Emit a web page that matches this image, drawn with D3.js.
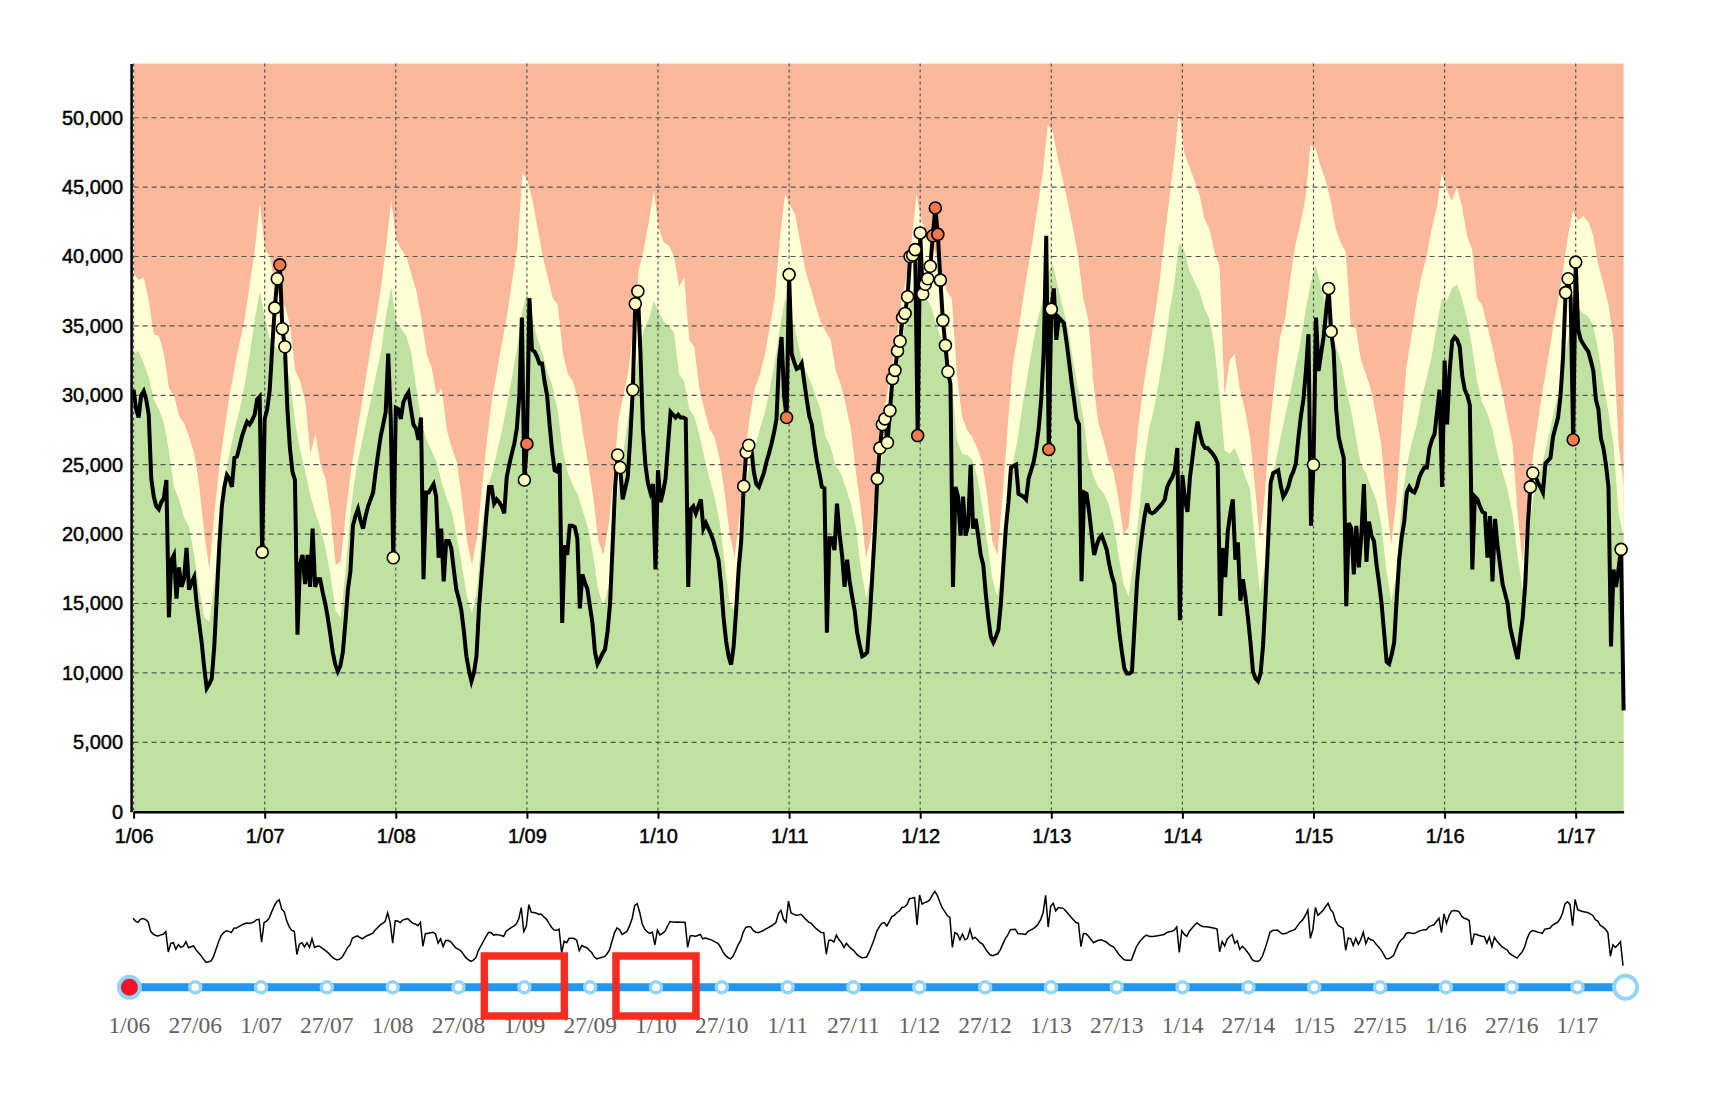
<!DOCTYPE html>
<html>
<head>
<meta charset="utf-8">
<script src="https://cdn.jsdelivr.net/npm/d3@7"></script>
<style>
  body { margin: 0; background: #fff; }
  .axis text { font-family: "Liberation Sans", Arial, Helvetica, sans-serif; font-size: 20px; fill: #000; stroke: #000; stroke-width: 0.45px; }
  .slider text { font-family: "Liberation Serif", "Times New Roman", serif; font-size: 23.5px; fill: #626262; }
</style>
</head>
<body>
<div id="chart"></div>
<script>
/* Weekly visits, one array per year (week 1 .. week 52) */
const visits06 = [30400, 29000, 28400, 30000, 30300, 29700, 28600, 24000, 22700, 22000,
  21800, 22300, 22600, 23900, 14000, 18150, 18500, 15350, 17600, 16200,
  16750, 19000, 16000, 16500, 16900, 15000, 13600, 12200, 10400, 8900,
  9200, 9600, 11900, 15500, 19200, 22000, 23400, 24250, 24000, 23400,
  25500, 25600, 26300, 27050, 27600, 28100, 27900, 28200, 28600, 29700,
  29900, 18700];
const visits07 = [28300, 29000, 30400, 33500, 36300, 38400, 39400, 34800, 33500, 29000,
  26200, 24500, 23900, 12750, 17800, 18500, 16400, 18500, 16200, 20400,
  16200, 16750, 16750, 15800, 15000, 14000, 12800, 11500, 10600, 10100,
  10500, 11500, 13600, 16000, 17300, 20600, 21300, 21800, 21000, 20400,
  21300, 22000, 22500, 23000, 24500, 25800, 27050, 27900, 28800, 33000,
  28300, 18300];
const visits08 = [29100, 29000, 28300, 29500, 29900, 30200, 29000, 27900, 27600, 26800,
  28400, 16750, 23000, 23000, 23300, 23600, 22700, 18300, 20400, 16600,
  19500, 19500, 19000, 17450, 16000, 15350, 14500, 13000, 11200, 10200,
  9400, 10000, 11200, 14650, 17000, 19200, 21500, 23400, 23400, 22200,
  22500, 22300, 22000, 21500, 24100, 25000, 25800, 26500, 27600, 30000,
  35600, 23900];
const visits09 = [26500, 37000, 33300, 33150, 32800, 32300, 32300, 31000, 30000, 27900,
  26000, 24600, 24500, 25100, 13600, 19200, 18500, 20600, 20600, 20500,
  19700, 14650, 17100, 16500, 16050, 14800, 13600, 11500, 10650, 11000,
  11400, 11700, 13000, 15000, 19200, 23400, 25700, 24800, 22500, 23300,
  24100, 26900, 30400, 36600, 37500, 33200, 27600, 25000, 23700, 23000,
  23600, 17450];
const visits10 = [24600, 22300, 23000, 24000, 26500, 28800, 28600, 28400, 28600, 28400,
  28400, 28300, 16200, 21800, 22000, 21500, 22000, 22500, 20400, 20800,
  20400, 20000, 19500, 18800, 18150, 16400, 14000, 12300, 11200, 10600,
  11900, 14500, 17500, 19500, 23450, 25900, 26400, 26200, 24500, 23600,
  23400, 23900, 24400, 25200, 25800, 26500, 27300, 28300, 32500, 34200,
  30000, 28400];
const visits11 = [38700, 33000, 32400, 31900, 32000, 32300, 31000, 29700, 28500, 27900,
  26500, 25300, 24400, 23400, 23300, 12900, 19700, 19700, 18850, 22200,
  20000, 18500, 16200, 18150, 16600, 15500, 14500, 12900, 12000, 11200,
  11300, 11500, 14000, 17000, 20200, 24000, 26200, 27900, 28300, 26600,
  28900, 31200, 31800, 33200, 33900, 35600, 35900, 37100, 40000, 40100,
  40500, 27100];
const visits12 = [41700, 37300, 38000, 38400, 39300, 41500, 43500, 41600, 38300, 35400,
  33600, 31700, 30800, 16200, 23400, 22700, 19900, 22700, 19900, 20600,
  25000, 20400, 21100, 19900, 18500, 17800, 15700, 14000, 12600, 12200,
  12600, 13100, 15000, 17800, 20500, 22300, 24800, 24900, 25000, 22900,
  22800, 22700, 22500, 24000, 24600, 25200, 26200, 27600, 29700, 33200,
  41500, 26100];
const visits13 = [36200, 37700, 34000, 35600, 35400, 35200, 33900, 32500, 31000, 29700,
  28300, 27900, 16600, 23000, 22900, 21600, 20000, 18500, 19200, 19700,
  19900, 19400, 18850, 17800, 17000, 16400, 14650, 12900, 11500, 10300,
  9950, 9950, 10100, 13300, 16500, 18500, 20000, 21300, 22200, 21600,
  21500, 21600, 21800, 22000, 22200, 22500, 23400, 23800, 24100, 24600,
  26200, 13800];
const visits14 = [24250, 22500, 21600, 24100, 25500, 27000, 28100, 27200, 26500, 26200,
  26200, 26000, 25800, 25500, 25100, 14100, 19000, 16900, 20200, 21500,
  22500, 18150, 19400, 15200, 16750, 15500, 14000, 12200, 10100, 9600,
  9400, 9950, 12000, 15500, 19500, 23700, 24400, 24500, 24600, 23500,
  22700, 23000, 23400, 24100, 24500, 25100, 26900, 28500, 29700, 31750,
  34400, 20600];
const visits15 = [25000, 35600, 31750, 33000, 34200, 36000, 37700, 34600, 33150, 29000,
  27000, 26200, 25500, 14800, 20800, 20400, 17100, 20600, 17600, 20000,
  23600, 18000, 20900, 19900, 19500, 17800, 16500, 15000, 12900, 10800,
  10650, 11300, 12200, 15350, 18150, 19800, 20900, 23000, 23400, 23100,
  23000, 23400, 24100, 24500, 24800, 24800, 26200, 26800, 27200, 28800,
  30400, 23400];
const visits16 = [32500, 27900, 31750, 33900, 34200, 34000, 33500, 31400, 30400, 30000,
  29300, 17450, 22700, 22500, 22000, 21600, 21500, 18300, 21300, 16600,
  21100, 19200, 17800, 16400, 15700, 15000, 13300, 12500, 11700, 11000,
  12600, 14000, 16400, 20600, 23400, 24400, 24200, 23700, 23400, 23000,
  25100, 25300, 25500, 27000, 27700, 28400, 30000, 32800, 37400, 38400,
  37000, 26800];
const visits17 = [39600, 34700, 34000, 33700, 33400, 33150, 32500, 31750, 29700, 29000,
  26900, 26200, 25000, 23400, 11900, 17450, 16200, 17500, 18900, 7300];

/* Alert thresholds, one value every second week */
const upperBand = [
  38800, 38300, 38500, 36800, 34400, 34300, 33000, 30500, 30000, 28500,
  28000, 27000, 25800, 23500, 20000, 17500, 21500, 25000, 27500, 30000,
  32000, 33800, 35500, 38000, 40500, 43800, 40500, 40000, 37800, 37000,
  36400, 35000, 31800, 31000, 29500, 25800, 27200, 25000, 24000, 21500,
  17800, 18000, 21500, 24500, 26800, 29000, 31300, 33500, 35500, 37800,
  40800, 44000,
  41200, 40500, 40000, 38700, 37500, 35500, 33000, 32000, 30000, 30500,
  27500, 26200, 25200, 22500, 19500, 17800, 19800, 23400, 26900, 29800,
  31800, 33900, 35900, 38400, 40800, 46000, 45500, 44000, 42000, 40000,
  38500, 37000, 36500, 33000, 31500, 31000, 29700, 27200, 25100, 22700,
  19500, 18500, 20600, 24000, 28300, 30000, 31800, 35000, 39000, 40500,
  42500, 44700,
  42000, 41000, 40800, 40000, 37800, 38500, 34000, 33500, 30500, 29000,
  27600, 27000, 25500, 23000, 20000, 18300, 21500, 25500, 28500, 30500,
  31500, 33000, 35000, 37200, 41500, 44500, 43700, 43000, 41000, 39000,
  37800, 36500, 35300, 34600, 34000, 31800, 30800, 29300, 27600, 24500,
  21800, 18300, 19800, 24000, 27500, 29700, 31800, 33900, 36800, 38500,
  41000, 44500,
  42500, 41800, 41000, 40000, 38800, 37500, 37000, 31500, 28500, 27500,
  27000, 26200, 25200, 22800, 19500, 18500, 22500, 27500, 32000, 34200,
  36700, 39000, 41200, 43600, 46000, 49500, 49000, 47000, 45500, 43800,
  42000, 40000, 37000, 35500, 31000, 28000, 26800, 25300, 24500, 22500,
  20000, 20500, 24500, 28000, 30800, 33000, 35300, 37800, 41000, 44000,
  47000, 50500,
  47500, 46500, 45500, 44500, 42700, 42000, 40300, 39300, 30000, 32500,
  33000, 30500, 29000, 27000, 23500, 19600, 23000, 28000, 31200, 34200,
  35500, 38400, 40800, 42300, 44200, 48000, 47800, 46500, 45500, 44000,
  42000, 41000, 40300, 35000, 34800, 32500, 31500, 30400, 28500, 26500,
  22500, 19200, 22500, 27500, 32000, 34300, 36800, 38600, 40000, 42000,
  43500, 46000,
  44800, 44000, 45000, 43600, 41500, 40500, 37000, 36500, 35000, 33500,
  31800, 30200, 28300, 26500, 21500, 18000, 22000, 25500, 28000, 30500,
  32500, 34800, 36800, 39000, 41500, 43300, 42600, 42900, 42500, 41500,
  39400, 38000, 36500, 34000, 26500, 23500
];
const lowerBand = [
  33000, 33200, 32300, 31300, 29700, 29000, 28000, 26000, 23400, 22500,
  21200, 20500, 18500, 16000, 14000, 13700, 16500, 20500, 24000, 25800,
  27500, 29000, 30800, 33000, 35500, 37500, 35500, 34000, 33500, 33200,
  32500, 31000, 28000, 26000, 24500, 22800, 21500, 20500, 19000, 17000,
  14500, 14000, 17500, 21800, 24500, 26300, 28000, 29700, 31500, 33200,
  35800, 37800,
  35300, 34800, 34300, 33000, 30500, 28000, 26800, 26000, 25200, 23700,
  22600, 21600, 19800, 17800, 15500, 14300, 16000, 20500, 23400, 24400,
  26000, 27600, 29500, 31500, 33600, 36200, 37500, 35500, 34000, 33000,
  31600, 30600, 28800, 26000, 24400, 23500, 22800, 21600, 20400, 18500,
  16000, 14800, 16200, 19000, 23500, 26000, 28500, 31000, 33000, 34700,
  35500, 36800,
  36000, 35300, 35000, 34500, 31500, 31000, 29000, 28500, 27200, 25500,
  24000, 22700, 21000, 18000, 15000, 14500, 18500, 23000, 25100, 26200,
  27600, 28800, 30500, 32500, 35000, 37000, 36000, 34700, 33000, 31800,
  31000, 30000, 29000, 27000, 26300, 24900, 24400, 23400, 22200, 20500,
  17500, 15400, 17000, 21800, 25000, 27500, 29500, 31500, 33800, 35500,
  37000, 38600,
  38200, 37000, 36300, 35000, 34000, 32500, 30800, 26800, 25800, 25700,
  25400, 24200, 22000, 19500, 16800, 15500, 17500, 22500, 25000, 26800,
  29300, 31500, 33600, 35500, 36800, 38800, 39500, 37800, 36300, 34800,
  32500, 30500, 28500, 25600, 24200, 23400, 23000, 22200, 20800, 18500,
  16400, 15500, 18000, 21300, 25000, 27500, 29000, 31000, 33200, 35800,
  38000, 41000,
  40500, 39000, 38200, 37500, 36300, 35500, 33500, 30000, 26000, 25800,
  26200, 25300, 24200, 23300, 19500, 15800, 17800, 23500, 25000, 26800,
  28500, 30200, 32000, 33800, 36000, 38000, 39400, 38000, 36500, 35200,
  33600, 32500, 30600, 29000, 27000, 25000, 24400, 23400, 22500, 20800,
  17500, 15200, 17000, 22000, 24800, 26500, 27800, 29800, 31200, 32800,
  35000, 37000,
  36800, 37700, 38000, 37000, 35500, 33500, 31000, 29500, 28700, 27600,
  25800, 24500, 23200, 21500, 18500, 16000, 19000, 22500, 24000, 25200,
  26800, 28500, 30000, 32000, 34000, 36000, 36300, 35900, 35700, 35000,
  33200, 30800, 28800, 26500, 21500, 19900
];

/* Weeks (counted from week 1 of 2006) flagged above each threshold */
const warnWeeks = [51, 56, 57, 59, 60, 103, 155, 192, 193, 198, 199, 200, 242, 243, 244, 260,
  295, 296, 297, 298, 299, 300, 301, 302, 303, 304, 305, 306, 307, 308, 309, 310,
  312, 313, 314, 315, 316, 320, 321, 322, 323, 364, 468, 474, 475, 554, 555, 568, 569, 572, 590];
const alarmWeeks = [58, 156, 259, 311, 317, 318, 319, 363, 571];

const yearLabels = ["06", "07", "08", "09", "10", "11", "12", "13", "14", "15", "16", "17"];

const visits = [].concat(visits06, visits07, visits08, visits09, visits10, visits11,
  visits12, visits13, visits14, visits15, visits16, visits17);
const last = visits.length - 1;

const width = 1720, height = 1110;
const margin = { top: 63.6, right: 96.4, bottom: 298.3, left: 133.6 };
const plotBottom = height - margin.bottom;

let svg = d3.select("#chart")
  .append("svg")
  .attr("width", width)
  .attr("height", height);

let x = d3.scaleLinear().domain([0, last]).range([margin.left, width - margin.right]);
let y = d3.scaleLinear().domain([0, 53900]).range([plotBottom, margin.top]);
let xBand = d3.scaleLinear().domain([0, upperBand.length - 1]).range(x.range());

/* Background = above the upper threshold */
svg.append("rect")
  .attr("x", margin.left)
  .attr("y", margin.top)
  .attr("width", width - margin.right - margin.left)
  .attr("height", plotBottom - margin.top)
  .attr("fill", "#fbb89b");

let band = d3.area()
  .x((d, i) => xBand(i))
  .y0(y(0))
  .y1(d => y(d));

svg.append("path").attr("d", band(upperBand)).attr("fill", "#ffffd6");
svg.append("path").attr("d", band(lowerBand)).attr("fill", "#c0e2a0");

/* Grid */
const yearTicks = yearLabels.map((d, i) => i * 52);

svg.append("g")
  .selectAll("line")
  .data(y.ticks(10).filter(d => d > 0))
  .join("line")
  .attr("x1", margin.left)
  .attr("x2", width - margin.right)
  .attr("y1", d => y(d))
  .attr("y2", d => y(d))
  .attr("stroke", "#555")
  .attr("stroke-width", 1.2)
  .attr("stroke-dasharray", "5,4");

svg.append("g")
  .selectAll("line")
  .data(yearTicks)
  .join("line")
  .attr("x1", d => x(d))
  .attr("x2", d => x(d))
  .attr("y1", margin.top)
  .attr("y2", plotBottom)
  .attr("stroke", "#555")
  .attr("stroke-width", 1.2)
  .attr("stroke-dasharray", "3,3");

/* Axes */
let xAxis = svg.append("g")
  .attr("class", "axis")
  .attr("transform", `translate(0,${plotBottom})`)
  .call(d3.axisBottom(x)
    .tickValues(yearTicks)
    .tickFormat((d, i) => "1/" + yearLabels[i])
    .tickSize(7)
    .tickSizeOuter(0)
    .tickPadding(10));

let yAxis = svg.append("g")
  .attr("class", "axis")
  .attr("transform", `translate(${margin.left - 2.5},0)`)
  .call(d3.axisLeft(y)
    .ticks(10)
    .tickFormat(d3.format(","))
    .tickSize(0)
    .tickSizeOuter(0)
    .tickPadding(8));

svg.selectAll(".axis .domain").attr("stroke", "#000").attr("stroke-width", 2.5);
xAxis.selectAll(".tick line").attr("stroke", "#000").attr("stroke-width", 2);

/* Visits line */
svg.append("path")
  .datum(visits)
  .attr("fill", "none")
  .attr("stroke", "#000")
  .attr("stroke-width", 4)
  .attr("d", d3.line().x((d, i) => x(i)).y(d => y(d)));

/* Flagged weeks */
const flags = warnWeeks.map(w => ({ w, level: 1 }))
  .concat(alarmWeeks.map(w => ({ w, level: 2 })))
  .sort((a, b) => a.w - b.w);

svg.append("g")
  .selectAll("circle")
  .data(flags)
  .join("circle")
  .attr("cx", d => x(d.w))
  .attr("cy", d => y(visits[d.w]))
  .attr("r", 6)
  .attr("fill", d => d.level === 2 ? "#f07a4c" : "#ffffc2")
  .attr("stroke", "#000")
  .attr("stroke-width", 1.6);

/* Overview sparkline */
let xs = d3.scaleLinear().domain([0, last]).range([133, 1623]);
let ys = d3.scaleLinear().domain([0, d3.max(visits)]).range([980.7, 891.3]);

svg.append("path")
  .datum(visits)
  .attr("fill", "none")
  .attr("stroke", "#000")
  .attr("stroke-width", 1.5)
  .attr("d", d3.line().x((d, i) => xs(i)).y(d => ys(d)));

/* Time slider */
const sliderY = 987.3;
let xt = d3.scaleLinear().domain([0, last]).range([129.4, 1625.6]);
const stops = d3.range(0, last, 26);

let slider = svg.append("g").attr("class", "slider");

slider.append("line")
  .attr("x1", xt(0))
  .attr("x2", xt(last))
  .attr("y1", sliderY)
  .attr("y2", sliderY)
  .attr("stroke", "#2196f3")
  .attr("stroke-width", 8);

slider.selectAll(".stop")
  .data(stops)
  .join("circle")
  .attr("class", "stop")
  .attr("cx", d => xt(d))
  .attr("cy", sliderY)
  .attr("r", d => d === 0 ? 10.5 : 5.5)
  .attr("fill", d => d === 0 ? "#f0142a" : "#fff")
  .attr("stroke", "#92d5f8")
  .attr("stroke-width", d => d === 0 ? 4 : 3.5);

slider.append("circle")
  .attr("cx", xt(last))
  .attr("cy", sliderY)
  .attr("r", 11.5)
  .attr("fill", "#fff")
  .attr("stroke", "#92d5f8")
  .attr("stroke-width", 4);

slider.selectAll("text")
  .data(stops)
  .join("text")
  .attr("x", d => xt(d))
  .attr("y", 1033)
  .attr("text-anchor", "middle")
  .text(d => (d % 52 === 0 ? "1/" : "27/") + yearLabels[Math.floor(d / 52)]);

/* Highlight boxes around 1/09 and 1/10 */
svg.append("g")
  .selectAll("rect")
  .data([156, 208])
  .join("rect")
  .attr("x", d => xt(d) - 40)
  .attr("y", 956)
  .attr("width", 80)
  .attr("height", 60)
  .attr("fill", "none")
  .attr("stroke", "#f52c1f")
  .attr("stroke-width", 7.5);
</script>
</body>
</html>
